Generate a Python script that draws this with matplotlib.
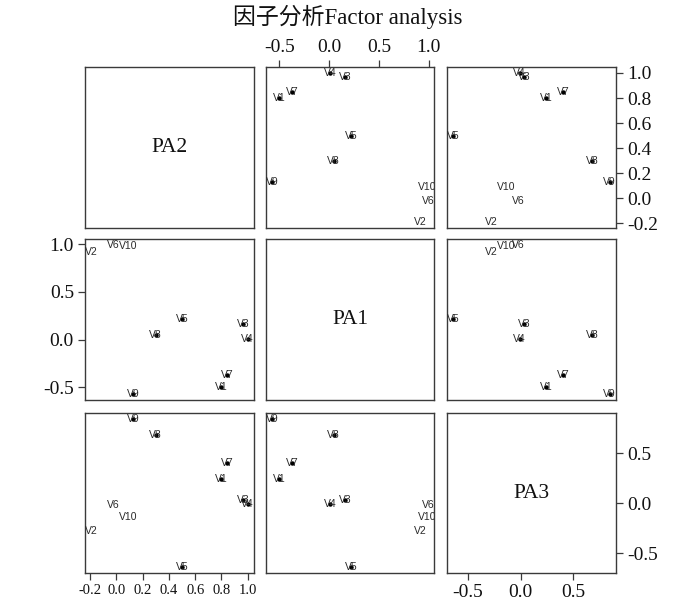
import numpy as np
import matplotlib
matplotlib.use("Agg")
import matplotlib.pyplot as plt

# factor loadings
items = ["V1", "V2", "V3", "V4", "V5", "V6", "V7", "V8", "V9", "V10"]
pa1 = [-0.50, 0.92, 0.16, 0.01, 0.22, 0.99, -0.37, 0.045, -0.57, 0.98]
pa2 = [0.80, -0.19, 0.965, 1.00, 0.50, -0.02, 0.845, 0.30, 0.128, 0.09]
pa3 = [0.24, -0.28, 0.03, -0.01, -0.64, -0.02, 0.405, 0.68, 0.845, -0.14]
# items drawn with a dot under the label
dotted = ["V1", "V3", "V4", "V5", "V7", "V8", "V9"]

factors = ["PA2", "PA1", "PA3"]
loads = {"PA1": np.array(pa1), "PA2": np.array(pa2), "PA3": np.array(pa3)}
ticks = {"PA2": [-0.2, 0.0, 0.2, 0.4, 0.6, 0.8, 1.0],
         "PA1": [-0.5, 0.0, 0.5, 1.0],
         "PA3": [-0.5, 0.0, 0.5]}

title = "因子分析Factor analysis"

serif = ["Liberation Serif", "Noto Sans CJK SC"]


def lims(v):
    r = v.max() - v.min()
    return v.min() - 0.04 * r, v.max() + 0.04 * r


fig = plt.figure(figsize=(7.0, 6.11), dpi=100)
W, H = 700, 611
cols = [(85, 254), (266, 434), (447, 616)]
rows = [(67, 228), (239, 400), (413, 573)]

frame = "#3a3a3a"
for i, fy in enumerate(factors):
    for j, fx in enumerate(factors):
        x0, x1 = cols[j]
        y0, y1 = rows[i]
        ax = fig.add_axes([x0 / W, 1 - y1 / H, (x1 - x0) / W, (y1 - y0) / H])
        for s in ax.spines.values():
            s.set_color(frame)
            s.set_linewidth(1.0)
        ax.set_xticks([])
        ax.set_yticks([])
        ax.set_xlim(*lims(loads[fx]))
        ax.set_ylim(*lims(loads[fy]))
        if i == j:
            ax.text(0.5, 0.5, fy, ha="center", va="center",
                    transform=ax.transAxes,
                    fontsize=15.5, family=serif, color="#111111")
        else:
            xv, yv = loads[fx], loads[fy]
            for k, name in enumerate(items):
                if name in dotted:
                    ax.plot(xv[k], yv[k], "o", color="black", ms=3.2,
                            mec="none", clip_on=True)
                ax.text(xv[k], yv[k], name, ha="center", va="center",
                        fontsize=7.5, family="Liberation Sans",
                        color="#2a2a2a", clip_on=True)

        # outer axes, R pairs style
        tk = dict(direction="out", length=5, width=0.9, colors=frame,
                  labelcolor="#111111", pad=3)
        if i == 2 and j == 0:
            ax.set_xticks(ticks[fx])
            ax.set_xticklabels([f"{t:.1f}" for t in ticks[fx]],
                               fontsize=10.5, family=serif)
            ax.tick_params(axis="x", **tk)
        if i == 2 and j == 2:
            ax.set_xticks(ticks[fx])
            ax.set_xticklabels([f"{t:.1f}" for t in ticks[fx]],
                               fontsize=14, family=serif)
            ax.tick_params(axis="x", **tk)
        if i == 0 and j == 1:
            ax.xaxis.set_ticks_position("top")
            ax.set_xticks(ticks[fx])
            ax.set_xticklabels([f"{t:.1f}" for t in ticks[fx]],
                               fontsize=14, family=serif)
            ax.tick_params(axis="x", **tk)
        if j == 2 and i in (0, 2):
            ax.yaxis.set_ticks_position("right")
            ax.set_yticks(ticks[fy])
            ax.set_yticklabels([f"{t:.1f}" for t in ticks[fy]],
                               fontsize=14, family=serif)
            ax.tick_params(axis="y", **tk)
        if j == 0 and i == 1:
            ax.set_yticks(ticks[fy])
            ax.set_yticklabels([f"{t:.1f}" for t in ticks[fy]],
                               fontsize=14, family=serif)
            ax.tick_params(axis="y", **tk)

fig.text(348 / W, 1 - 17 / H, title, ha="center", va="center",
         fontsize=16.5, family=serif, color="#111111")

fig.savefig("out.png", dpi=100, facecolor="white")
